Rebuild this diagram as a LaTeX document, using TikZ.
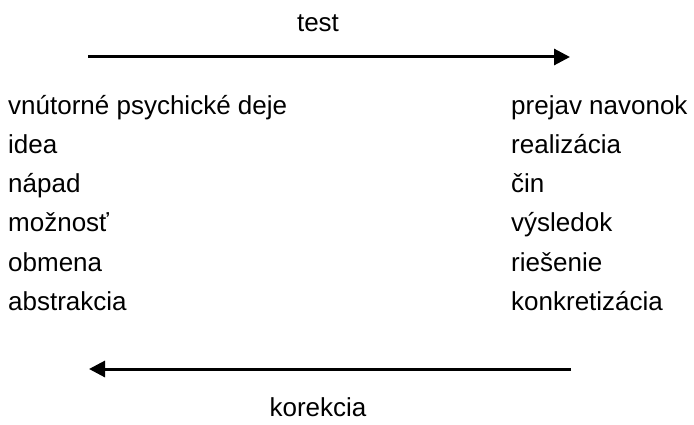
\documentclass[tikz,border=0pt]{standalone}
\usepackage{fontspec}
\setmainfont{Liberation Sans}
\usetikzlibrary{arrows.meta}
\begin{document}
\begin{tikzpicture}[x=1pt,y=-1pt,
  lbl/.style={inner sep=0pt,font=\fontsize{26}{30}\selectfont},
  arr/.style={line width=3pt,-{Triangle[length=16pt,width=16pt]}}]
\useasboundingbox (0,0) rectangle (694,425);
\node[lbl,anchor=base] (test) at (318,32) {test};
\coordinate (t1) at (88,57);
\coordinate (t2) at (570,57);
\draw[arr] (t1) -- (t2);
\foreach \i/\l/\r in {0/vnútorné psychické deje/prejav navonok,1/idea/realizácia,2/nápad/čin,3/možnosť/výsledok,4/obmena/riešenie,5/abstrakcia/konkretizácia}{
  \node[lbl,anchor=base west] (L\i) at (8,115+39*\i) {\l};
  \node[lbl,anchor=base west] (R\i) at (511,115+39*\i) {\r};
}
\coordinate (b1) at (571,369);
\coordinate (b2) at (89,369);
\draw[arr] (b1) -- (b2);
\node[lbl,anchor=base] (kor) at (318,416) {korekcia};
\end{tikzpicture}
\end{document}
